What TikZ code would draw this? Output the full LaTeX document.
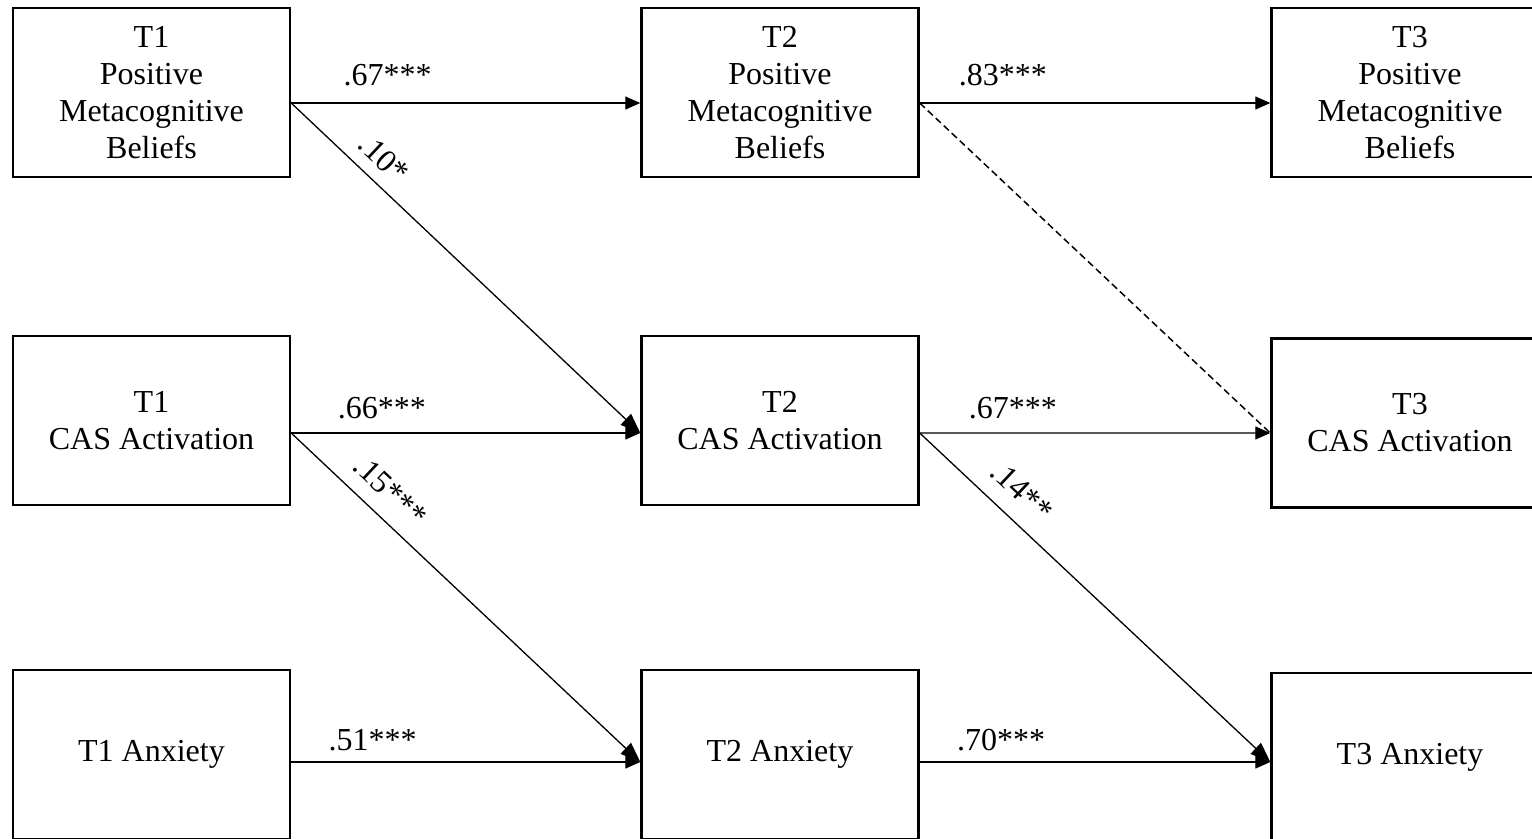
\documentclass[tikz,border=0pt]{standalone}
\usepackage{fontspec}
\setmainfont{Liberation Serif}
\usetikzlibrary{arrows.meta,calc}
\begin{document}
\begin{tikzpicture}[x=1bp,y=-1bp,
  box/.style={draw, line width=2.4bp, minimum width=277bp, minimum height=169bp,
    align=center, inner sep=0pt, font=\fontsize{32bp}{37bp}\selectfont},
  lbl/.style={font=\fontsize{32bp}{37bp}\selectfont, inner sep=0pt},
  arr/.style={line width=1.3bp, -{Triangle[length=15bp,width=13bp]}},
  darr/.style={line width=1.3bp, -{Triangle[length=20bp,width=15bp]}},
  dline/.style={line width=1.5bp, dash pattern=on 7bp off 4bp}]
\useasboundingbox (0,0) rectangle (1532,838);
\clip (0,0) rectangle (1532,838);
\fill[white] (0,0) rectangle (1532,838);
% boxes
\node[box] (p1) at (151.5,92.5) {T1\\Positive\\Metacognitive\\Beliefs};
\node[box] (p2) at (780,92.5) {T2\\Positive\\Metacognitive\\Beliefs};
\node[box] (p3) at (1410,92.5) {T3\\Positive\\Metacognitive\\Beliefs};
\node[box] (c1) at (151.5,420.5) {T1\\CAS Activation};
\node[box] (c2) at (780,420.5) {T2\\CAS Activation};
\node[box] (c3) at (1410,423) {T3\\CAS Activation};
\node[box] (a1) at (151.5,754.5) {T1 Anxiety};
\node[box] (a2) at (780,754.5) {T2 Anxiety};
\node[box] (a3) at (1410,757.5) {T3 Anxiety};
% horizontal paths
\draw[arr] ($(p1.east)+(0,10.5)$) -- node[lbl, pos=.276, yshift=28bp] {.67***} ($(p2.west)+(0,10.5)$);
\draw[arr] ($(p2.east)+(0,10.5)$) -- node[lbl, pos=.237, yshift=28bp] {.83***} ($(p3.west)+(0,10.5)$);
\draw[arr] ($(c1.east)+(0,12.5)$) -- node[lbl, pos=.26, yshift=25bp] {.66***} ($(c2.west)+(0,12.5)$);
\draw[arr] ($(c2.east)+(0,12.5)$) -- node[lbl, pos=.266, yshift=25bp] {.67***} ($(c3.west)+(0,10)$);
\draw[arr] ($(a1.east)+(0,7.5)$) -- node[lbl, pos=.233, yshift=22bp] {.51***} ($(a2.west)+(0,7.5)$);
\draw[arr] ($(a2.east)+(0,7.5)$) -- node[lbl, pos=.232, yshift=22bp] {.70***} ($(a3.west)+(0,4.5)$);
% cross-lagged paths
\draw[darr] ($(p1.east)+(0,10.5)$) -- node[lbl, sloped, pos=.219, above=12bp] {.10*} ($(c2.west)+(0,12.5)$);
\draw[darr] ($(c1.east)+(0,12.5)$) -- node[lbl, sloped, pos=.233, above=14.5bp] {.15***} ($(a2.west)+(0,7.5)$);
\draw[darr] ($(c2.east)+(0,12.5)$) -- node[lbl, sloped, pos=.238, above=16bp] {.14**} ($(a3.west)+(0,4.5)$);
\draw[dline] ($(p2.east)+(0,10.5)$) -- ($(c3.west)+(0,10)$);
\end{tikzpicture}
\end{document}
